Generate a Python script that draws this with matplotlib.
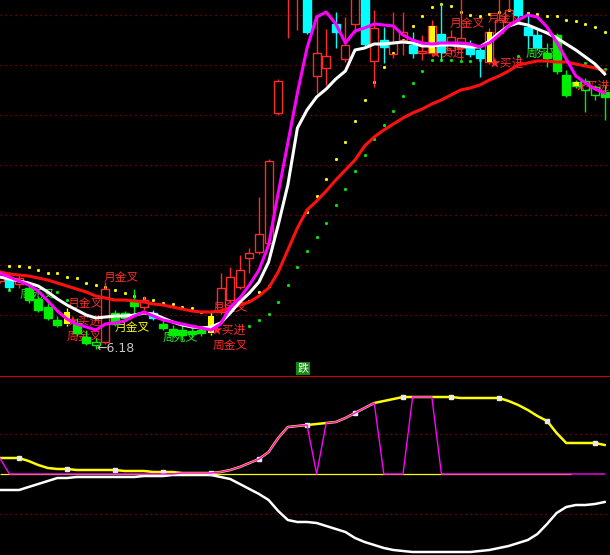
import numpy as np
import matplotlib.pyplot as plt

# candle data (price), one entry per bar
kinds = ['r', 'c', 'r', 'g', 'g', 'g', 'g', 'y', 'g', 'g',
         'gh', 'r', 'g', 'g', 'g', 'r', 'c', 'g', 'g', 'g',
         'g', 'g', 'y', 'r', 'r', 'r', 'r', 'r', 'r', 'r',
         'r', 'r', 'c', 'r', 'r', 'c', 'r', 'r', 'c', 'r',
         'c', 'r', 'r', 'c', 'r', 'yr', 'c', 'r', 'r', 'c',
         'c', 'yr', 'r', 'r', 'c', 'c', 'c', 'g', 'g', 'g',
         'yg', 'gh', 'gh', 'g']
opens = [7.54, 7.58, 7.48, 7.40, 7.18, 7.02, 6.76, 6.68, 6.70, 6.42,
         6.26, 6.32, 6.90, 6.90, 7.16, 7.02, 6.90, 6.68, 6.58, 6.56,
         6.54, 6.56, 6.50, 6.92, 7.16, 7.42, 8.00, 8.12, 8.30, 10.90,
         13.20, 13.20, 13.36, 11.64, 11.80, 12.68, 11.98, 12.68, 13.26, 11.94,
         12.36, 12.08, 12.36, 12.26, 12.10, 12.10, 12.48, 12.16, 12.20, 12.24,
         12.16, 11.92, 12.50, 12.72, 13.26, 12.62, 12.46, 12.10, 12.46, 11.66,
         11.44, 11.36, 11.26, 11.32]
highs = [7.76, 7.72, 7.66, 7.46, 7.24, 7.10, 6.84, 7.00, 6.80, 6.56,
         6.40, 7.52, 6.96, 6.94, 7.38, 7.24, 6.96, 6.76, 6.66, 6.66,
         6.60, 6.62, 6.92, 7.70, 7.82, 8.06, 8.20, 9.22, 9.98, 11.58,
         14.06, 14.06, 13.56, 12.86, 12.58, 12.92, 12.82, 13.56, 13.36, 12.96,
         12.62, 12.92, 12.92, 12.52, 12.46, 12.76, 13.10, 12.56, 13.20, 12.36,
         12.26, 12.60, 13.26, 13.26, 13.36, 12.86, 12.56, 12.30, 12.50, 11.76,
         11.56, 11.60, 11.46, 11.46]
lows = [7.50, 7.36, 7.40, 7.10, 6.92, 6.76, 6.62, 6.64, 6.44, 6.26,
        6.18, 6.28, 6.64, 6.76, 6.86, 6.96, 6.76, 6.56, 6.42, 6.36,
        6.42, 6.44, 6.46, 6.88, 7.12, 7.38, 7.70, 8.08, 8.26, 10.86,
        12.40, 12.56, 12.48, 11.30, 11.46, 12.20, 11.92, 12.50, 12.24, 11.42,
        11.90, 12.00, 12.06, 12.00, 11.96, 12.04, 11.96, 12.06, 11.96, 12.02,
        11.62, 11.88, 12.44, 12.66, 12.76, 12.20, 12.16, 11.82, 11.68, 11.22,
        11.40, 10.92, 11.16, 10.76]
closes = [7.70, 7.42, 7.60, 7.16, 6.96, 6.80, 6.66, 6.92, 6.50, 6.30,
          6.32, 7.38, 6.68, 6.80, 7.04, 7.16, 6.80, 6.60, 6.46, 6.46,
          6.48, 6.50, 6.84, 7.40, 7.62, 7.76, 8.10, 8.48, 9.94, 11.54,
          13.96, 13.76, 12.52, 12.10, 12.04, 12.52, 12.26, 13.26, 12.28, 12.60,
          12.22, 12.32, 12.52, 12.10, 12.14, 12.64, 12.12, 12.42, 12.40, 12.08,
          12.00, 12.52, 12.76, 12.96, 12.86, 12.46, 12.22, 12.00, 11.74, 11.26,
          11.52, 11.54, 11.42, 11.22]

ma_fast = [7.70, 7.62, 7.54, 7.46, 7.34, 7.14, 6.94, 6.78, 6.68, 6.62,
           6.56, 6.68, 6.70, 6.74, 6.84, 6.92, 6.84, 6.76, 6.72, 6.68,
           6.64, 6.60, 6.56, 6.68, 7.02, 7.20, 7.46, 7.76, 8.26, 9.30,
           10.30, 11.30, 12.20, 12.82, 12.92, 12.68, 12.30, 12.54, 12.60, 12.68,
           12.66, 12.64, 12.46, 12.36, 12.30, 12.28, 12.30, 12.30, 12.30, 12.28,
           12.22, 12.30, 12.46, 12.64, 12.76, 12.86, 12.82, 12.62, 12.32, 11.98,
           11.64, 11.50, 11.38, 11.30]
ma_mid = [7.62, 7.58, 7.54, 7.50, 7.44, 7.32, 7.18, 7.06, 6.96, 6.86,
          6.80, 6.82, 6.84, 6.84, 6.86, 6.90, 6.88, 6.80, 6.72, 6.66,
          6.62, 6.60, 6.62, 6.70, 6.90, 7.12, 7.30, 7.52, 7.92, 8.66,
          9.46, 10.60, 10.96, 11.22, 11.38, 11.58, 11.74, 12.16, 12.20, 12.28,
          12.28, 12.30, 12.32, 12.30, 12.24, 12.24, 12.26, 12.26, 12.24, 12.22,
          12.22, 12.34, 12.50, 12.64, 12.70, 12.66, 12.58, 12.50, 12.40, 12.28,
          12.16, 12.02, 11.88, 11.68]
ma_slow = [7.72, 7.68, 7.66, 7.64, 7.60, 7.56, 7.50, 7.44, 7.38, 7.32,
           7.24, 7.20, 7.16, 7.16, 7.14, 7.12, 7.08, 7.06, 7.02, 6.98,
           6.94, 6.92, 6.92, 6.94, 7.00, 7.06, 7.12, 7.24, 7.40, 7.72,
           8.16, 8.60, 8.96, 9.14, 9.34, 9.56, 9.76, 9.96, 10.24, 10.42,
           10.56, 10.68, 10.80, 10.90, 10.98, 11.08, 11.16, 11.26, 11.36, 11.40,
           11.46, 11.56, 11.64, 11.74, 11.86, 11.90, 11.94, 11.94, 11.92, 11.92,
           11.88, 11.84, 11.80, 11.74]

nan = np.nan
dots_yellow = [nan, 7.84, 7.84, 7.82, 7.76, 7.70, 7.70, 7.62, 7.60, 7.50,
               7.46, 7.42, 7.36, 7.30, 7.24, 7.20, 7.16, 7.10, 7.08, 7.02,
               7.00, 6.92, nan, nan, nan, nan, 7.14, 7.32, 7.44, nan,
               nan, nan, 8.92, 9.24, 9.58, 9.98, 10.32, 10.74, 11.16, 11.52,
               11.82, 12.10, 12.36, 12.64, 12.84, 13.02, 13.08, 13.04, 12.92, 12.86,
               12.84, 12.88, 12.92, 12.96, 12.92, 12.90, 12.88, 12.84, 12.84, 12.76,
               12.74, 12.68, 12.62, 12.52]
dots_green = [nan, 7.36, nan, nan, nan, nan, 7.32, 7.16, nan, nan,
              nan, nan, nan, nan, nan, nan, nan, nan, nan, nan,
              nan, nan, nan, nan, nan, nan, 6.64, 6.76, 6.88, 7.12,
              7.46, 7.82, 8.14, 8.42, 8.70, 9.06, 9.38, 9.74, 10.06, 10.38,
              10.66, 10.94, 11.24, 11.50, 11.74, 11.96, 11.96, 11.96, 11.94, 11.94,
              11.96, nan, nan, nan, 12.04, nan, nan, nan, nan, nan,
              nan, 11.90, 11.84, 11.78]

# lower indicator
osc_yellow = [8.0, 8.0, 8.0, 6.5, 4.5, 3.0, 2.5, 2.5, 2.0, 2.0,
              2.0, 2.0, 2.0, 1.5, 1.5, 1.5, 1.0, 1.0, 1.0, 0.5,
              0.5, 0.5, 0.5, 1.0, 2.0, 3.5, 5.5, 7.5, 11.0, 18.0,
              23.5, 24.0, 24.5, 25.0, 25.5, 26.0, 28.0, 30.5, 33.0, 35.5,
              36.5, 37.5, 38.5, 38.5, 38.5, 38.5, 38.5, 38.5, 38.0, 38.0,
              38.0, 38.0, 38.0, 36.5, 34.5, 32.0, 29.0, 26.5, 20.5, 15.5,
              15.5, 15.5, 15.5, 14.5]
osc_magenta = [8.0, 0, 0, 0, 0, 0, 0, 0, 0, 0,
               0, 0, 0, 0, 0, 0, 0, 0, 0, 0.5,
               0.5, 0.5, 0.5, 1.0, 2.0, 3.5, 5.5, 7.5, 11.0, 18.0,
               23.5, 24.0, 24.5, 0, 25.5, 26.0, 28.0, 30.5, 33.0, 35.5,
               0, 0, 0, 38.5, 38.5, 38.5, 0, 0, 0, 0,
               0, 0, 0, 0, 0, 0, 0, 0, 0, 0,
               0, 0, 0, 0]
osc_white = [-8.0, -8.0, -8.0, -6.5, -5.0, -3.5, -2.0, -2.0, -1.5, -1.5,
             -1.5, -1.5, -1.5, -1.5, -1.5, -1.0, -1.0, -1.0, -0.5, -0.5,
             -0.5, -0.5, -0.5, -1.5, -2.5, -5.0, -7.5, -10.0, -13.0, -18.5,
             -23.0, -24.0, -24.0, -24.5, -26.0, -27.5, -29.0, -32.0, -34.0, -35.5,
             -37.0, -38.0, -38.5, -39.0, -39.0, -39.0, -39.0, -39.0, -39.0, -39.0,
             -38.5, -38.0, -37.0, -36.0, -34.5, -33.0, -30.0, -25.0, -19.5, -16.5,
             -15.5, -15.5, -15.0, -14.0]

# signal labels: text, bar position, price, colour
RED, GREEN, YELLOW = '#ff2a2a', '#22ee22', '#ffff00'
notes = [
    ("月金叉", 12.7, 7.62, RED),
    ("月金叉", 8.9, 7.10, RED),
    ("周死叉", 3.9, 7.28, GREEN),
    ("月金叉", 24.0, 7.02, RED),
    ("★买进", 8.8, 6.73, RED),
    ("周金叉", 8.8, 6.43, RED),
    ("月金叉", 13.8, 6.62, YELLOW),
    ("周死叉", 18.8, 6.42, GREEN),
    ("★买进", 23.8, 6.55, RED),
    ("周金叉", 24.0, 6.25, RED),
    ("月金叉", 48.7, 12.70, RED),
    ("月金叉", 52.6, 12.80, RED),
    ("★买进", 46.6, 12.10, RED),
    ("★买进", 52.7, 11.90, RED),
    ("周死叉", 56.6, 12.10, GREEN),
    ("★买进", 61.7, 11.44, RED),
]
low_label = "←6.18"
low_bar = 10

x = np.arange(len(closes))
cjk = ['Noto Sans CJK SC', 'DejaVu Sans']

fig = plt.figure(figsize=(6.1, 5.55), dpi=100, facecolor='black')
ax = fig.add_axes([0, 179 / 555, 1, 376 / 555], facecolor='black')
ax2 = fig.add_axes([0, 0, 1, 179 / 555], facecolor='black')

for a in (ax, ax2):
    a.set_xlim(0.02, 63.56)
    a.set_xticks([])
    a.set_yticks([])
    for s in a.spines.values():
        s.set_visible(False)

ax.set_ylim(5.64, 13.16)
for g in [12.86, 11.86, 10.86, 9.86, 8.86, 7.86, 6.86]:
    ax.axhline(g, color='#a00000', lw=0.9, ls=(0, (1, 3)), zorder=0)

# dots
ax.plot(x, dots_yellow, ls='none', marker='s', ms=1.1, color='#ffff00', zorder=1)
ax.plot(x, dots_green, ls='none', marker='s', ms=1.1, color='#00ee00', zorder=1)

# labels (behind candles)
for txt, xb, yp, col in notes:
    ax.text(xb, yp, txt, color=col, fontsize=8.5, family=cjk,
            ha='center', va='center', zorder=2)
ax.text(low_bar + 0.05, lows[low_bar] + 0.02, low_label, color='#c8c8c8',
        fontsize=9, family='DejaVu Sans', ha='left', va='center', zorder=2)

# candles
styles = {'r': ('#ff2a2a', 'none'), 'c': ('#00ffff', '#00ffff'),
          'g': ('#00ee00', '#00ee00'), 'gh': ('#00ee00', 'none')}
w = 0.82
for i in range(len(closes)):
    k = kinds[i]
    top = max(opens[i], closes[i])
    bot = min(opens[i], closes[i])
    if k.startswith('y'):
        edge = {'y': None, 'yr': '#ff2a2a', 'yg': '#00ee00'}[k]
        wick = edge if edge else '#ffff00'
        ax.vlines(i, top, highs[i], color=wick, lw=1, zorder=3)
        ax.vlines(i, lows[i], bot, color=wick, lw=1, zorder=3)
        if edge:
            ax.bar(i, top - bot, bottom=bot, width=w, facecolor='none',
                   edgecolor=edge, lw=1, zorder=3)
        ax.bar(i, top - bot, bottom=bot, width=0.58, color='#ffff00',
               lw=0, zorder=3)
        continue
    edge, face = styles[k]
    ax.vlines(i, top, highs[i], color=edge, lw=1, zorder=3)
    ax.vlines(i, lows[i], bot, color=edge, lw=1, zorder=3)
    ax.bar(i, max(top - bot, 0.02), bottom=bot, width=w, facecolor=face,
           edgecolor=edge, lw=1, zorder=3)

# moving averages
ax.plot(x, ma_slow, color='#ff1010', lw=2.2, zorder=4)
ax.plot(x, ma_mid, color='#ffffff', lw=2.2, zorder=4)
ax.plot(x, ma_fast, color='#ff00ff', lw=2.2, zorder=4)

ax.text(31.6, 5.79, "跌", color='white', fontsize=8, family=cjk, ha='center',
        va='center', zorder=6,
        bbox=dict(boxstyle='square,pad=0.12', fc='#128a12', ec='none'))

# lower panel
ax2.set_ylim(-40.5, 49)
ax2.axhline(49, color='#d00000', lw=1.5, zorder=1)
for g in [20, -20]:
    ax2.axhline(g, color='#a00000', lw=0.9, ls=(0, (1, 3)), zorder=0)
ax2.hlines(0, 0, 59.5, color='#ffff00', lw=0.9, zorder=1)
ax2.plot(x, osc_white, color='#ffffff', lw=1.8, zorder=2)
ax2.plot(x, osc_yellow, color='#ffff00', lw=1.8, zorder=2,
         marker='s', ms=2.4, mfc='#e8e8e8', mec='#e8e8e8',
         markevery=slice(2, None, 5))
ax2.plot(x, osc_magenta, color='#ff00ff', lw=1.0, zorder=3)

fig.savefig('out.png', dpi=100, facecolor='black')
